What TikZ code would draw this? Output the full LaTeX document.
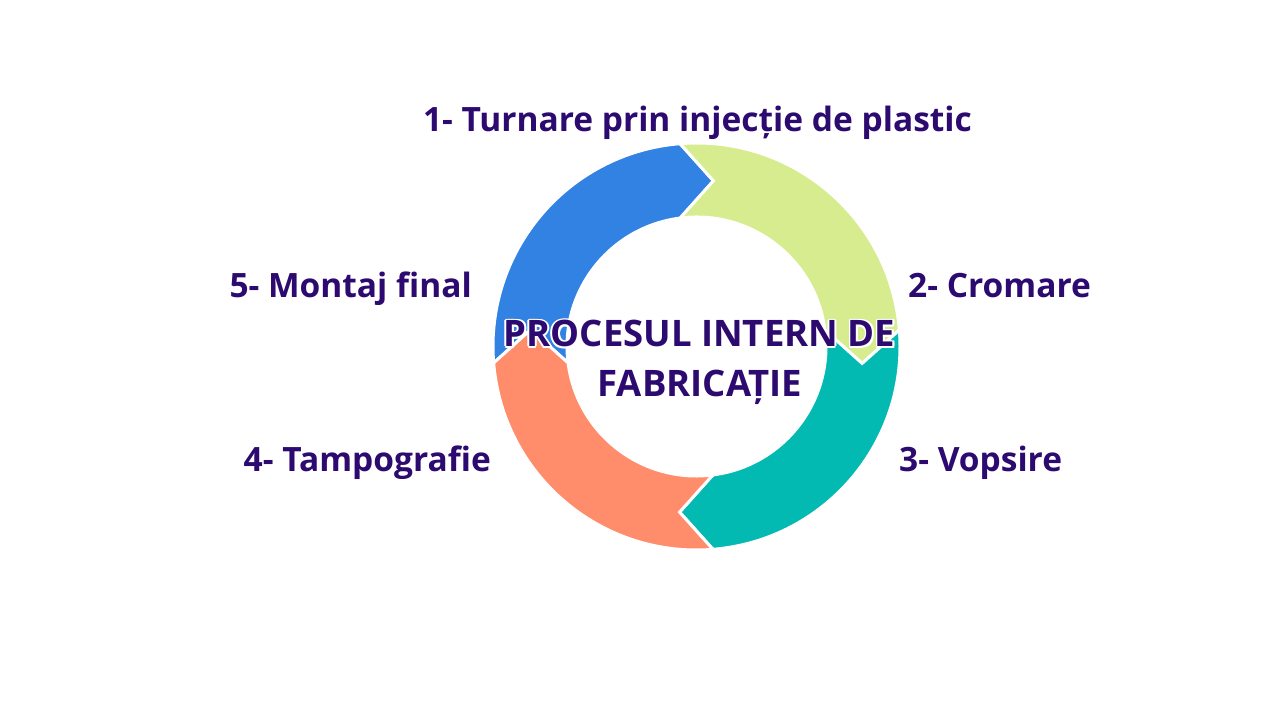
\documentclass[tikz,border=0pt]{standalone}
\usepackage{fontspec}
\setmainfont{Open Sans}
\usetikzlibrary{calc}
\definecolor{cblue}{HTML}{3182E2}
\definecolor{cgreen}{HTML}{D6EC8E}
\definecolor{cteal}{HTML}{02BAB2}
\definecolor{csalmon}{HTML}{FF8C6B}
\definecolor{cpurple}{HTML}{2C0A6F}
\newcommand{\ringseg}[2]{%
  \fill[#2, draw=white, line width=3pt, line join=miter]
    ($(C)+(#1+90+\al:\Ro pt)$) arc[start angle=#1+90+\al, end angle=#1+\al, radius=\Ro pt]
    -- ($(C)+(#1-\ga:\Rm pt)$)
    -- ($(C)+(#1+\be:\Ri pt)$) arc[start angle=#1+\be, end angle=#1+90+\be, radius=\Ri pt]
    -- ($(C)+(#1+90-\ga:\Rm pt)$) -- cycle;}
\tikzset{
  lbl/.style={font=\fontsize{33.5}{40}\selectfont\bfseries, text=cpurple, inner sep=0pt},
  ttl/.style={font=\fontsize{36.5}{44}\selectfont\bfseries, text=cpurple, inner sep=0pt},
  halo/.style={font=\fontsize{36.5}{44}\selectfont\bfseries, text=white, inner sep=0pt}
}
\begin{document}
\begin{tikzpicture}[x=1pt,y=1pt]
\useasboundingbox (0,0) rectangle (1280,720);
\fill[white] (0,0) rectangle (1280,720);
\coordinate (C) at (696.5,373.5);
\pgfmathsetmacro{\Ro}{203.5}
\pgfmathsetmacro{\Ri}{129.5}
\pgfmathsetmacro{\Rm}{166.5}
\pgfmathsetmacro{\al}{atan(16.5/\Ro)}
\pgfmathsetmacro{\be}{atan(16.5/\Ri)}
\pgfmathsetmacro{\ga}{atan(17/\Rm)}
\ringseg{90}{cblue}
\ringseg{0}{cgreen}
\ringseg{-90}{cteal}
\ringseg{180}{csalmon}
% center title with white halo
\foreach \dx/\dy [count=\i] in {1.8/0,-1.8/0,0/1.8,0/-1.8,1.3/1.3,-1.3/1.3,1.3/-1.3,-1.3/-1.3}{
  \node[halo, anchor=base] (haloA\i) at (699.5+\dx,373+\dy) {PROCESUL INTERN DE};
  \node[halo, anchor=base] (haloB\i) at (700+\dx,323+\dy) {FABRICAȚIE};
}
\node[ttl, anchor=base] (title1) at (699.5,373) {PROCESUL INTERN DE};
\node[ttl, anchor=base] (title2) at (700,323) {FABRICAȚIE};
% step labels
\node[lbl, anchor=base] (s1) at (697.5,588) {1- Turnare prin injecție de plastic};
\node[lbl, anchor=base west] (s2) at (908,422) {2- Cromare};
\node[lbl, anchor=base west] (s3) at (899,248) {3- Vopsire};
\node[lbl, anchor=base east] (s4) at (491,248) {4- Tampografie};
\node[lbl, anchor=base east] (s5) at (472,422) {5- Montaj final};
\end{tikzpicture}
\end{document}
